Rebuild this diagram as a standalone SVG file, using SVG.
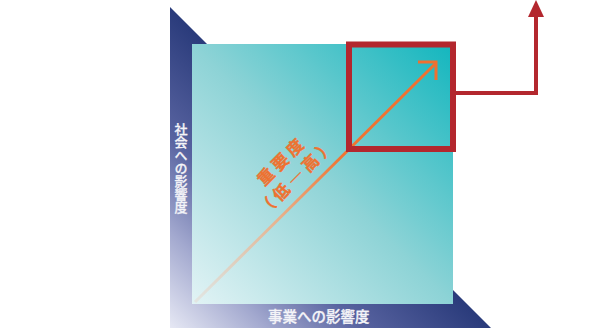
<svg xmlns="http://www.w3.org/2000/svg" width="611" height="331" viewBox="0 0 611 331">
<style>
.axis{font-family:"Noto Sans CJK JP","Noto Sans",sans-serif;fill:#f4f4f8;font-weight:500;stroke:#f4f4f8;stroke-width:0.3}
.imp{font-family:"Noto Sans CJK JP","Noto Sans",sans-serif;fill:#ee7231;stroke:#ee7231;stroke-width:0.4;font-weight:700;font-size:16.5px;letter-spacing:4px}
.red{stroke:#b3272e;fill:none}
</style>
<defs>
<linearGradient id="bg" gradientUnits="userSpaceOnUse" x1="170" y1="328" x2="330" y2="168">
<stop offset="0" stop-color="#e6e8f4"/>
<stop offset="0.3" stop-color="#a3a9cf"/>
<stop offset="0.6" stop-color="#5863a0"/>
<stop offset="1" stop-color="#2a3b7b"/>
</linearGradient>
<linearGradient id="sq" gradientUnits="userSpaceOnUse" x1="192" y1="304" x2="453" y2="44">
<stop offset="0" stop-color="#e2f3f5"/>
<stop offset="0.5" stop-color="#8dd3d6"/>
<stop offset="1" stop-color="#12b6be"/>
</linearGradient>
<linearGradient id="og" gradientUnits="userSpaceOnUse" x1="195" y1="302" x2="437" y2="62">
<stop offset="0" stop-color="#e4ddd6" stop-opacity="0.6"/>
<stop offset="0.35" stop-color="#e7b18c"/>
<stop offset="0.6" stop-color="#ef7533"/>
<stop offset="1" stop-color="#ef7030"/>
</linearGradient>
</defs>
<g id="background">
<polygon points="170,7 208,45 453,290 491,328 170,328" fill="url(#bg)"/>
</g>
<g id="matrix">
<rect x="192" y="44" width="261" height="260" fill="url(#sq)"/>
</g>
<g id="importance-arrow">
<line x1="195" y1="302" x2="436" y2="63" stroke="url(#og)" stroke-width="3"/>
<polyline points="418,62 436,62 436,80" fill="none" stroke="#ef7030" stroke-width="3"/>
</g>
<g id="highlight">
<rect class="red" x="349" y="44.5" width="104" height="104.5" stroke-width="6"/>
</g>
<g id="connectors">
<polyline class="red" points="456,93 536,93 536,16" stroke-width="4"/>
<polygon points="536,0 528,17 544,17" fill="#b3272e"/>
</g>
<g id="importance-label" transform="translate(288,170) rotate(-45)">
<text class="imp" x="2" y="-5" text-anchor="middle">重要度</text>
<text class="imp" x="2" y="17" text-anchor="middle">（低―高）</text>
</g>
<g id="y-label">
<text class="axis" x="181" y="123" font-size="13" style="writing-mode:vertical-rl">社会への影響度</text>
</g>
<g id="x-label">
<text class="axis" x="268" y="322" font-size="14.5">事業への影響度</text>
</g>
</svg>
